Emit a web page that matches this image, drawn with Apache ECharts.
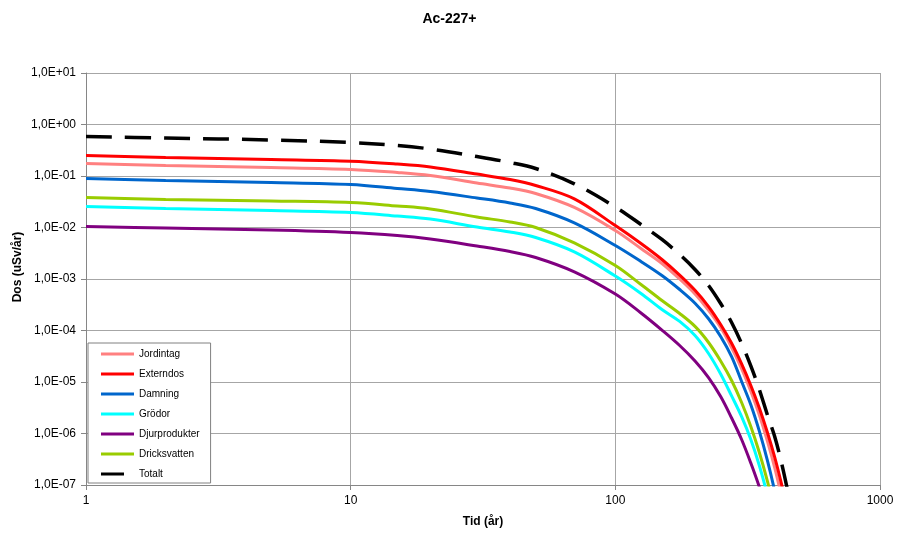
<!DOCTYPE html>
<html>
<head>
<meta charset="utf-8">
<script src="https://cdn.jsdelivr.net/npm/echarts@6/dist/echarts.min.js"></script>
<style>
html,body{margin:0;padding:0;background:#fff;}
#chart{width:899px;height:537px;}
</style>
</head>
<body>
<div id="chart"></div>
<script>
// Time (år)
const times = [1, 2, 5, 10, 15, 20, 30, 40, 50, 70, 100, 125, 150, 175, 200, 225, 250, 275, 300, 325, 350, 375, 400, 425, 450];

// Dose (uSv/år) per pathway
const jordintag = [0.175, 0.160, 0.146, 0.134, 0.117, 0.102, 0.0731, 0.0585, 0.0457, 0.0245, 0.00874, 0.00391, 0.00200, 0.00100, 5.11e-4, 2.45e-4, 1.14e-4, 4.68e-5, 1.81e-5, 6.63e-6, 2.29e-6, 7.28e-7, 2.18e-7, 5.85e-8, 1.50e-8];
const externdos = [0.250, 0.229, 0.209, 0.194, 0.171, 0.150, 0.109, 0.0855, 0.0654, 0.0360, 0.0109, 0.00489, 0.00239, 0.00119, 6.03e-4, 2.92e-4, 1.31e-4, 5.64e-5, 2.24e-5, 8.55e-6, 3.13e-6, 1.07e-6, 3.47e-7, 1.02e-7, 2.85e-8];
const damning = [0.0894, 0.0818, 0.0748, 0.0684, 0.0572, 0.0500, 0.0374, 0.0299, 0.0234, 0.0123, 0.00447, 0.00219, 0.00117, 6.25e-4, 3.39e-4, 1.69e-4, 7.65e-5, 3.10e-5, 1.02e-5, 3.62e-6, 1.11e-6, 3.07e-7, 7.65e-8, 1.71e-8];
const grodor = [0.0256, 0.0234, 0.0214, 0.0196, 0.0167, 0.0146, 0.0102, 0.00818, 0.00639, 0.00336, 0.00114, 5.23e-4, 2.56e-4, 1.50e-4, 8.0e-5, 3.58e-5, 1.43e-5, 5.37e-6, 2.12e-6, 7.65e-7, 2.39e-7, 6.54e-8, 1.71e-8];
const djurprodukter = [0.0105, 0.00978, 0.00894, 0.00800, 0.00699, 0.00598, 0.00437, 0.00342, 0.00262, 0.00138, 5.11e-4, 2.19e-4, 1.02e-4, 5.12e-5, 2.56e-5, 1.22e-5, 5.23e-6, 2.00e-6, 7.65e-7, 2.67e-7, 9.15e-8, 2.92e-8];
const dricksvatten = [0.0382, 0.0350, 0.0327, 0.0306, 0.0262, 0.0229, 0.0160, 0.0128, 0.0100, 0.00502, 0.00183, 7.82e-4, 3.82e-4, 2.14e-4, 1.20e-4, 5.85e-5, 2.56e-5, 1.07e-5, 4.00e-6, 1.37e-6, 4.28e-7, 1.22e-7, 3.20e-8];
const totalt = [0.585, 0.547, 0.500, 0.447, 0.391, 0.334, 0.239, 0.183, 0.140, 0.0705, 0.0250, 0.01144, 0.00585, 0.00299, 0.00153, 7.48e-4, 3.34e-4, 1.43e-4, 5.59e-5, 2.05e-5, 7.15e-6, 2.34e-6, 8.74e-7, 2.62e-7, 6.84e-8];

const seriesNames = ['Jordintag', 'Externdos', 'Damning', 'Grödor', 'Djurprodukter', 'Dricksvatten', 'Totalt'];
const yTickLabels = ['1,0E-07', '1,0E-06', '1,0E-05', '1,0E-04', '1,0E-03', '1,0E-02', '1,0E-01', '1,0E+00', '1,0E+01'];
const xTickLabels = ['1', '10', '100', '1000'];

const seriesValues = [jordintag, externdos, damning, grodor, djurprodukter, dricksvatten, totalt];
const seriesColors = ['#FF8080', '#FF0000', '#0066CC', '#00FFFF', '#800080', '#99CC00', '#000000'];

function pairs(vals) {
  return vals.map((v, i) => [times[i], v]);
}

const FONT = 'Liberation Sans, Arial, sans-serif';

const series = seriesNames.map((name, i) => {
  const isTotal = name === 'Totalt';
  return {
    name: name,
    type: 'line',
    data: pairs(seriesValues[i]),
    showSymbol: false,
    symbol: 'none',
    smooth: 0.35,
    clip: true,
    color: seriesColors[i],
    lineStyle: {
      color: seriesColors[i],
      width: isTotal ? 3.5 : 3,
      type: isTotal ? [26, 13] : 'solid',
      cap: 'butt'
    },
    itemStyle: { color: seriesColors[i] },
    emphasis: { disabled: true }
  };
});

const legendData = seriesNames.map(name => ({
  name: name,
  icon: name === 'Totalt' ? 'path://M0,0 H23 V3 H0 Z M33,0 L33,3' : 'rect'
}));

const chart = echarts.init(document.getElementById('chart'), null, { renderer: 'canvas' });
chart.setOption({
  animation: false,
  backgroundColor: '#ffffff',
  textStyle: { fontFamily: FONT },
  title: {
    text: 'Ac-227+',
    left: 'center',
    top: 7,
    textStyle: { fontFamily: FONT, fontSize: 14, fontWeight: 'bold', color: '#000' }
  },
  grid: { left: 86, right: 19, top: 73, bottom: 52, containLabel: false, outerBoundsMode: 'none' },
  legend: {
    orient: 'vertical',
    left: 88,
    top: 343,
    padding: [6, 11, 4, 13],
    itemGap: 10,
    itemWidth: 33,
    itemHeight: 3,
    symbolKeepAspect: false,
    backgroundColor: '#ffffff',
    borderColor: '#808080',
    borderWidth: 1,
    borderRadius: 0,
    selectedMode: false,
    itemStyle: { borderWidth: 0 },
    data: legendData,
    textStyle: { fontFamily: FONT, fontSize: 10, color: '#000', lineHeight: 10 }
  },
  xAxis: {
    type: 'log',
    logBase: 10,
    min: 1,
    max: 1000,
    name: 'Tid (år)',
    nameLocation: 'middle',
    nameGap: 31,
    nameMoveOverlap: false,
    nameTextStyle: { fontFamily: FONT, fontSize: 12, fontWeight: 'bold', color: '#000' },
    axisLine: { show: true, lineStyle: { color: '#868686', width: 1 } },
    axisTick: { show: true, length: 5, inside: false, lineStyle: { color: '#868686' } },
    minorTick: { show: false },
    axisLabel: {
      fontFamily: FONT, fontSize: 12, color: '#000', margin: 10,
      formatter: v => xTickLabels[Math.round(Math.log10(v))]
    },
    splitLine: { show: true, lineStyle: { color: '#a6a6a6', width: 1 } }
  },
  yAxis: {
    type: 'log',
    logBase: 10,
    min: 1e-7,
    max: 10,
    name: 'Dos (uSv/år)',
    nameLocation: 'middle',
    nameGap: 62,
    nameMoveOverlap: false,
    nameTextStyle: { fontFamily: FONT, fontSize: 12, fontWeight: 'bold', color: '#000', padding: [0, 0, 0, 24] },
    axisLine: { show: true, lineStyle: { color: '#868686', width: 1 } },
    axisTick: { show: true, length: 5, inside: false, lineStyle: { color: '#868686' } },
    minorTick: { show: false },
    axisLabel: {
      fontFamily: FONT, fontSize: 12, color: '#000', margin: 10,
      formatter: v => yTickLabels[Math.round(Math.log10(v)) + 7]
    },
    splitLine: { show: true, lineStyle: { color: '#a6a6a6', width: 1 } }
  },
  series: series
});
</script>
</body>
</html>
